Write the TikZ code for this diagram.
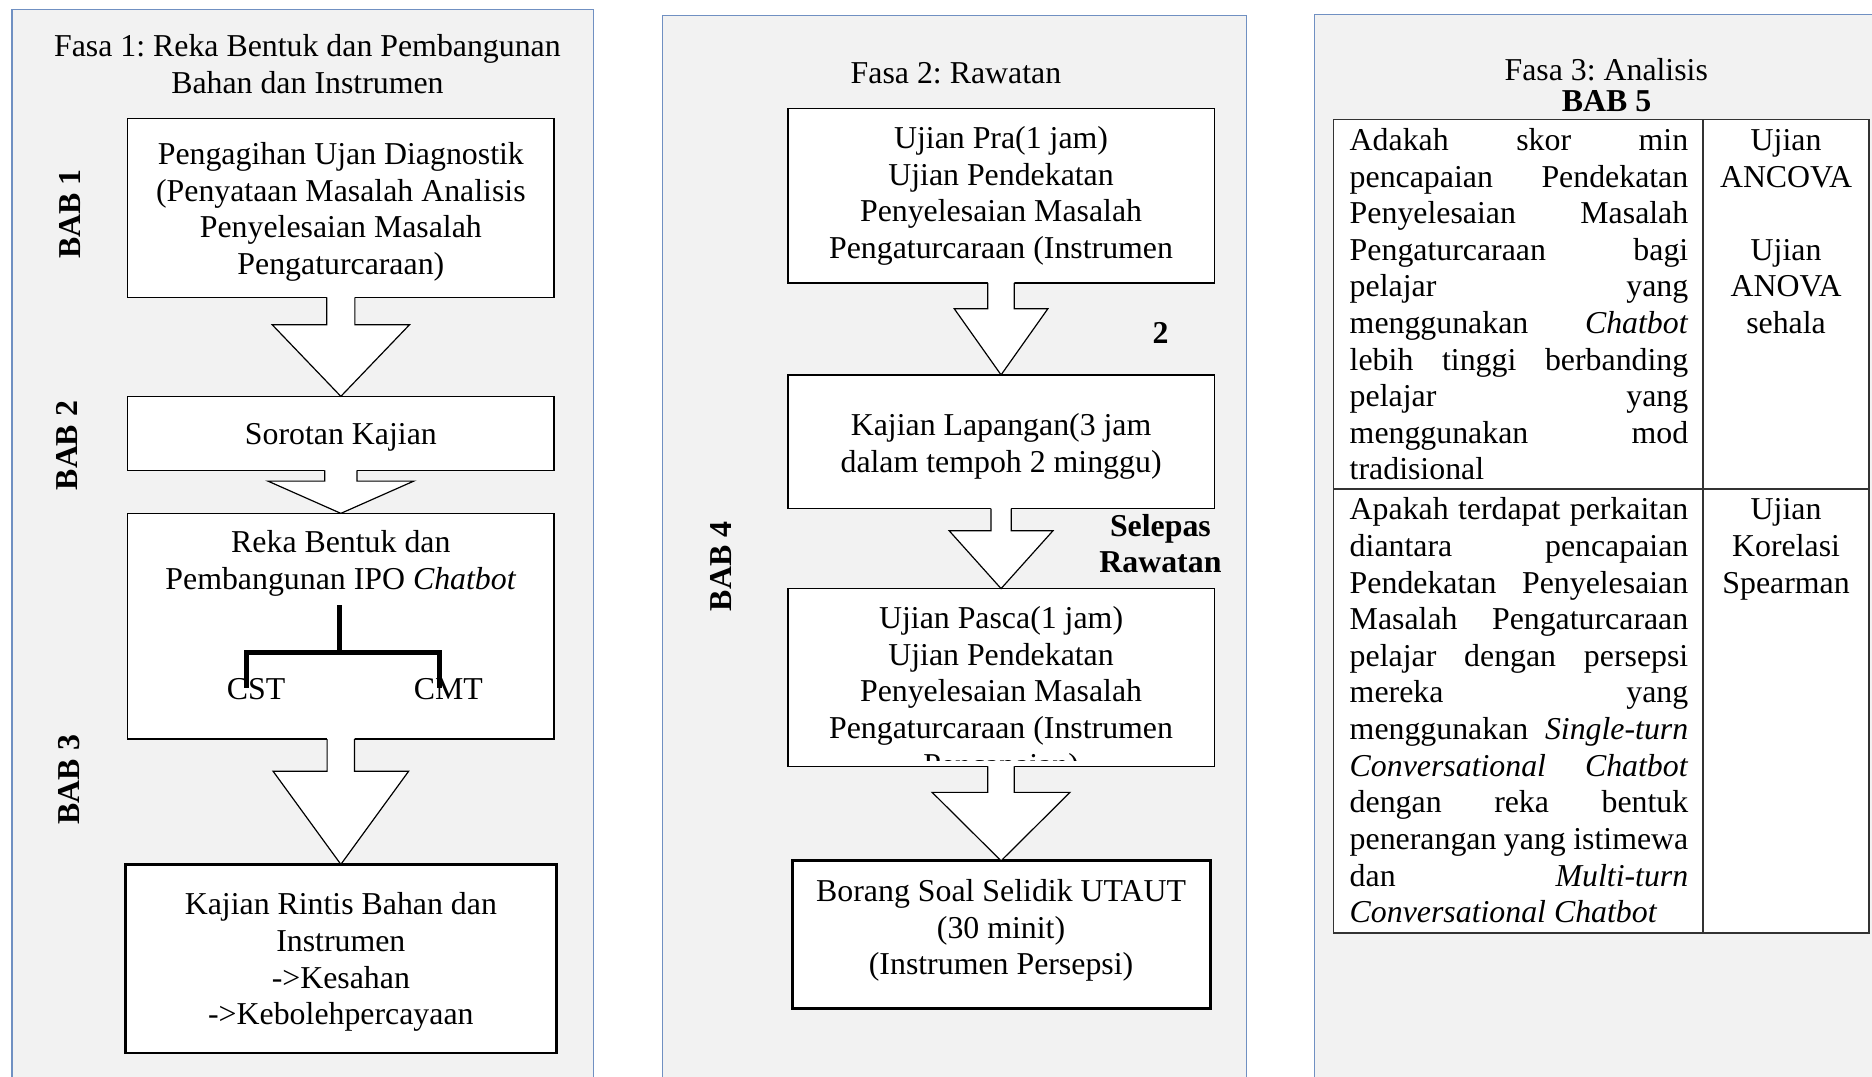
\documentclass[tikz,border=0pt]{standalone}
\usepackage{fontspec}
\setmainfont{Liberation Serif}
\usetikzlibrary{calc}
\frenchspacing
\definecolor{panelfill}{HTML}{F2F2F2}
\definecolor{panelline}{HTML}{7090C2}
\newcommand{\rectnode}[6][]{\node[#1, inner sep=0pt, outer sep=0pt, minimum width={(#5-#3)*0.45pt}, minimum height={(#6-#4)*0.45pt}] (#2) at ({(#3+#5)/2},{(#4+#6)/2}) {};}
\newcommand{\blockarr}[5]{%
  \fill[white] let \p1=(#1.south), \p2=(#2.north) in
    ({\x1-#3*0.45pt},{\y1+0.8pt}) -- ({\x1-#3*0.45pt},{\y1-#5*0.45pt}) -- ({\x1-#4*0.45pt},{\y1-#5*0.45pt}) -- (\x1,\y2) -- ({\x1+#4*0.45pt},{\y1-#5*0.45pt}) -- ({\x1+#3*0.45pt},{\y1-#5*0.45pt}) -- ({\x1+#3*0.45pt},{\y1+0.8pt}) -- cycle;
  \draw[arrowline] let \p1=(#1.south), \p2=(#2.north) in
    ({\x1-#3*0.45pt},\y1) -- ({\x1-#3*0.45pt},{\y1-#5*0.45pt}) -- ({\x1-#4*0.45pt},{\y1-#5*0.45pt}) -- (\x1,\y2) -- ({\x1+#4*0.45pt},{\y1-#5*0.45pt}) -- ({\x1+#3*0.45pt},{\y1-#5*0.45pt}) -- ({\x1+#3*0.45pt},\y1);
}
\newcommand{\jl}[1]{\makebox[127.6pt][s]{\spaceskip=0pt\xspaceskip=0pt #1}\\}
\begin{document}
\begin{tikzpicture}[x=0.45pt,y=-0.45pt,
  every node/.style={font=\fontsize{12}{13.8}\selectfont, inner sep=0pt},
  panel/.style={draw=panelline, fill=panelfill, line width=0.5pt},
  box/.style={draw=black, fill=white, line width=0.5pt},
  thickbox/.style={draw=black, fill=white, line width=1.1pt},
  txt/.style={align=center},
  bab/.style={font=\fontsize{12}{13.8}\selectfont\bfseries, rotate=90},
  boldtxt/.style={font=\fontsize{12}{13.8}\selectfont\bfseries, align=center},
  arrowline/.style={draw=black, line width=0.45pt, line join=miter},
  treeline/.style={draw=black, line width=1.75pt},
  tabline/.style={draw=black!80, line width=0.6pt},
  cell/.style={text width=127.6pt, align=justify},
]
\useasboundingbox (0,0) rectangle (1568,902);
\clip (0,0) rectangle (1568,902);

% ---------- panels ----------
\rectnode[panel]{p1}{10}{8}{497}{915}
\rectnode[panel]{p2}{555}{13}{1044}{915}
\rectnode[panel]{p3}{1101}{12}{1620}{915}

% ---------- Fasa 1 ----------
\node[txt, anchor=base] (t1) at (257.5,78.2) {Fasa 1: Reka Bentuk dan Pembangunan\\Bahan dan Instrumen};

\rectnode[box]{b1}{107}{99}{464}{249}
\node[txt, anchor=base] (t1b) at (285.5,229.8) {Pengagihan Ujan Diagnostik\\(Penyataan Masalah Analisis\\Penyelesaian Masalah\\Pengaturcaraan)};

\rectnode[box]{b2}{107}{332}{464}{394}
\node[txt, anchor=base] (t2b) at (285.5,372.6) {Sorotan Kajian};

\rectnode[box]{b3}{107}{430}{464}{619}
\node[txt, anchor=base] (t3b) at (285.5,493.7) {Reka Bentuk dan\\Pembangunan IPO \textit{Chatbot}};
\node[anchor=base] (cst) at (214.5,585.8) {CST};
\node[anchor=base] (cmt) at (375.5,585.8) {CMT};
\coordinate (tt) at (284.5,507);
\coordinate (tj) at (284.5,546.5);
\coordinate (tl) at (206.5,576);
\coordinate (tr) at (368,576);
\draw[treeline] (tt) -- (tj);
\draw[treeline] (tl) |- (tj) -| (tr);

\rectnode[thickbox]{b4}{105}{724}{466}{882}
\node[txt, anchor=base] (t4b) at (285.5,858.4) {Kajian Rintis Bahan dan\\Instrumen\\->Kesahan\\->Kebolehpercayaan};

\blockarr{b1}{b2}{11.75}{57.5}{23}
\blockarr{b2}{b3}{13.5}{61}{9}
\blockarr{b3}{b4}{11.5}{56.75}{27}

\node[bab] (bab1) at (58.8,179.4) {BAB 1};
\node[bab] (bab2) at (56.3,373.2) {BAB 2};
\node[bab] (bab3) at (58,653) {BAB 3};

% ---------- Fasa 2 ----------
\node[anchor=base] (t2t) at (800.7,69.7) {Fasa 2: Rawatan};

\rectnode[box]{bA}{660}{91}{1017}{237}
\node[txt, anchor=base] (tA) at (838.5,216.5) {Ujian Pra(1 jam)\\Ujian Pendekatan\\Penyelesaian Masalah\\Pengaturcaraan (Instrumen};

\node[boldtxt, anchor=base] (two) at (972,288) {2};

\rectnode[box]{bB}{660}{314}{1017}{426}
\node[txt, anchor=base] (tB) at (838.5,395.5) {Kajian Lapangan(3 jam\\dalam tempoh 2 minggu)};

\node[boldtxt, anchor=base] (sel) at (972,479.8) {Selepas\\Rawatan};

\rectnode[box]{bC}{660}{493}{1017}{642}
\begin{scope}
  \clip ([yshift=2.3pt]bC.south west) rectangle (bC.north east);
  \node[txt, anchor=base] (tC) at (838.5,649.3) {Ujian Pasca(1 jam)\\Ujian Pendekatan\\Penyelesaian Masalah\\Pengaturcaraan (Instrumen\\Pencapaian)};
\end{scope}

\rectnode[thickbox]{bD}{663.5}{721}{1014}{845}
\node[txt, anchor=base] (tD) at (838.5,816.6) {Borang Soal Selidik UTAUT\\(30 minit)\\(Instrumen Persepsi)};

\blockarr{bA}{bB}{11.1}{39.2}{21.6}
\blockarr{bB}{bC}{8.5}{43.5}{18.5}
\blockarr{bC}{bD}{11.1}{57.7}{21.7}

\node[bab] (bab4) at (604,474.5) {BAB 4};

% ---------- Fasa 3 ----------
\node[anchor=base] (t3t) at (1345.4,67.7) {Fasa 3: Analisis};
\node[boldtxt, anchor=base] (bab5) at (1345.7,93.7) {BAB 5};

\rectnode[draw=black!80, fill=white, line width=0.6pt]{tbl}{1117}{100}{1565.5}{781.5}
\draw[tabline] (1426.5,100) -- (1426.5,781.5);
\draw[tabline] (1117,409.5) -- (1565.5,409.5);

\node[cell, anchor=base west] (q1) at (1130.1,126) {%
\jl{Adakah skor min}%
\jl{pencapaian Pendekatan}%
\jl{Penyelesaian Masalah}%
\jl{Pengaturcaraan bagi}%
\jl{pelajar yang}%
\jl{menggunakan \textit{Chatbot}}%
\jl{lebih tinggi berbanding}%
\jl{pelajar yang}%
\jl{menggunakan mod}%
tradisional};

\node[txt, anchor=base] (a1a) at (1496,156.7) {Ujian\\ANCOVA};
\node[txt, anchor=base] (a1b) at (1496,279.3) {Ujian\\ANOVA\\sehala};

\node[cell, anchor=base west] (q2) at (1130.1,435.5) {%
\jl{Apakah terdapat perkaitan}%
\jl{diantara pencapaian}%
\jl{Pendekatan Penyelesaian}%
\jl{Masalah Pengaturcaraan}%
\jl{pelajar dengan persepsi}%
\jl{mereka yang}%
\jl{menggunakan \textit{Single-turn}}%
\jl{\textit{Conversational Chatbot}}%
\jl{dengan reka bentuk}%
\jl{penerangan yang istimewa}%
\jl{dan \textit{Multi-turn}}%
\textit{Conversational Chatbot}};

\node[txt, anchor=base] (a2) at (1496,496.8) {Ujian\\Korelasi\\Spearman};
\end{tikzpicture}
\end{document}
